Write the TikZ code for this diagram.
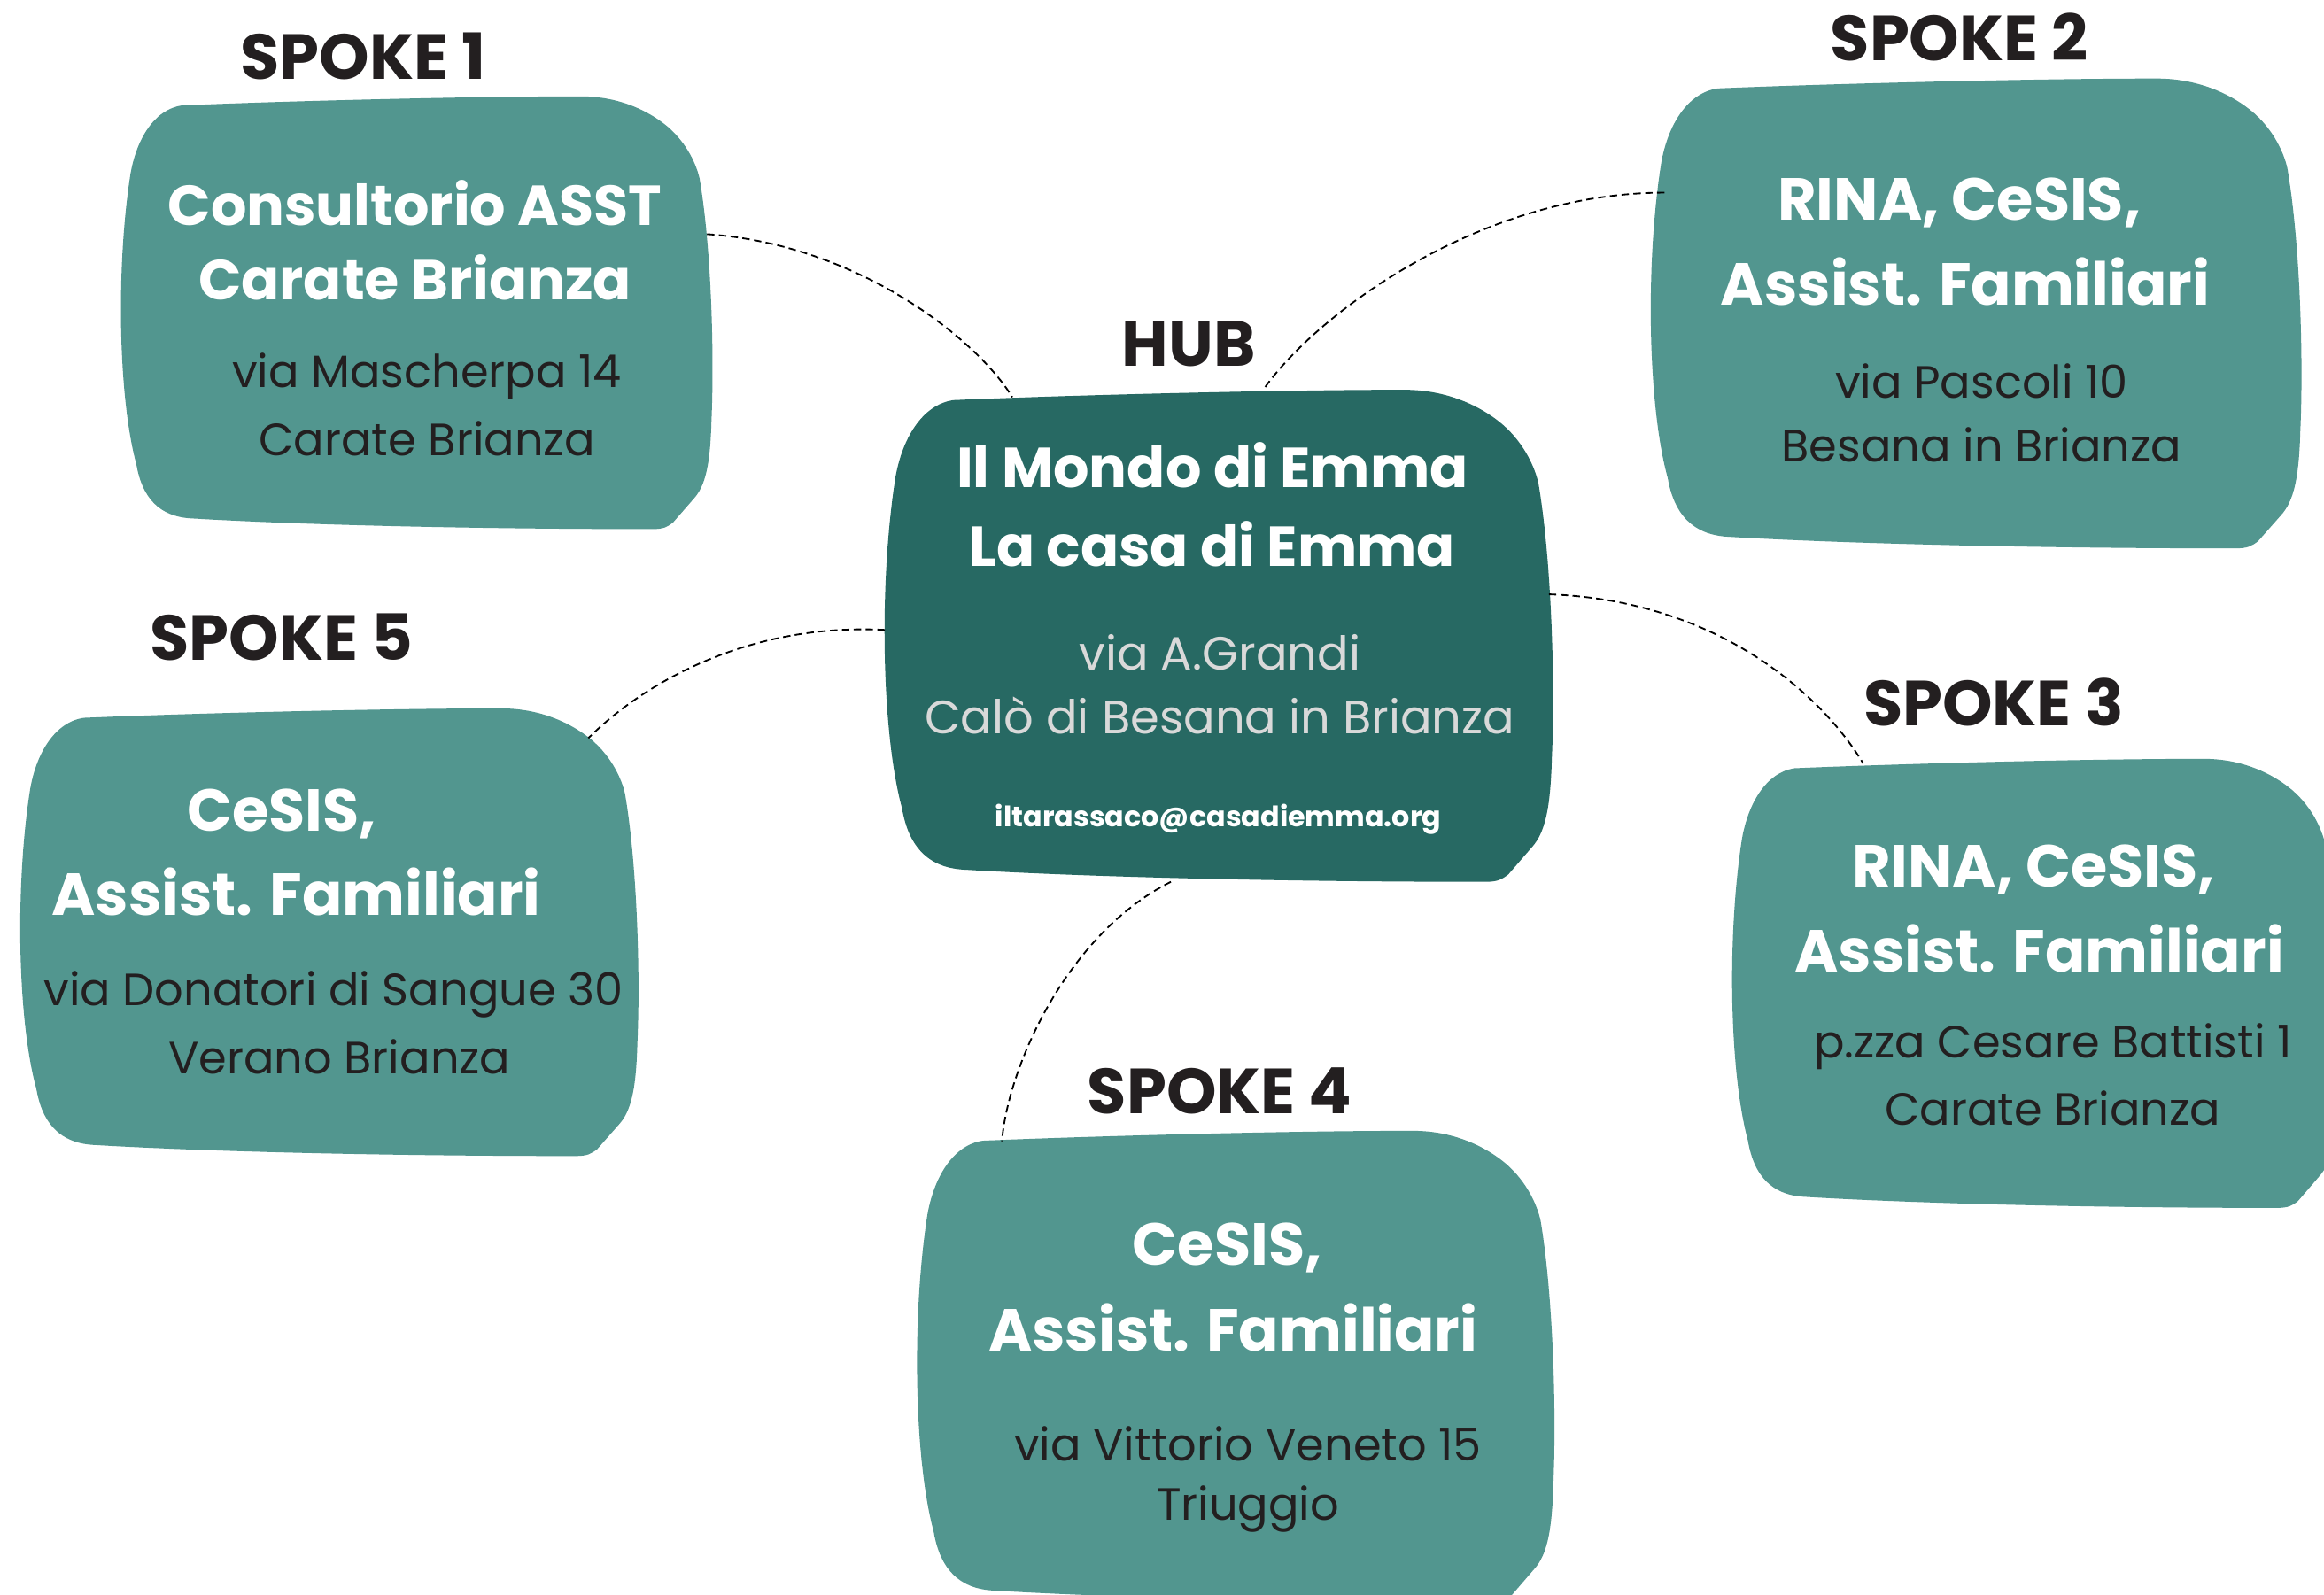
\documentclass[tikz,border=0pt]{standalone}
\usepackage{fontspec}
\setmainfont{Poppins}
\definecolor{spokec}{RGB}{82,150,143}
\definecolor{hubc}{RGB}{39,105,99}
\definecolor{ink}{RGB}{35,31,32}
\definecolor{lightg}{RGB}{217,217,217}
\newcommand{\drawblob}[5]{%
  \begin{scope}[shift={(#1,#2)},xscale=#3,yscale=#4]
    \fill[#5] (0.107,0.021) .. controls (0.3,0.01) and (0.6,0.0) .. (0.78,0.0)
      .. controls (0.85,0.0) and (0.9,0.04) .. (0.926,0.07)
      .. controls (0.96,0.11) and (0.975,0.16) .. (0.98,0.19)
      .. controls (1.0,0.35) and (1.005,0.6) .. (1.0,0.75)
      .. controls (0.998,0.85) and (0.99,0.9) .. (0.97,0.93)
      -- (0.935,0.985)
      .. controls (0.925,0.995) and (0.92,1.0) .. (0.9,1.0)
      .. controls (0.6,1.0) and (0.3,0.99) .. (0.12,0.975)
      .. controls (0.07,0.97) and (0.04,0.93) .. (0.03,0.85)
      .. controls (0.0,0.7) and (-0.005,0.4) .. (0.02,0.18)
      .. controls (0.03,0.1) and (0.06,0.03) .. (0.107,0.021) -- cycle;
  \end{scope}}
\begin{document}
\begin{tikzpicture}[x=1pt,y=-1pt,
  title/.style={text=white,font=\fontsize{40}{44}\selectfont\bfseries,inner sep=0},
  titles/.style={text=white,font=\fontsize{38}{42}\selectfont\bfseries,inner sep=0},
  addr/.style={text=ink,font=\fontsize{30.5}{34}\selectfont,inner sep=0},
  haddr/.style={text=lightg,font=\fontsize{31.5}{34}\selectfont,inner sep=0},
  mail/.style={text=white,font=\fontsize{19}{21}\selectfont\bfseries,inner sep=0},
  lbl/.style={text=ink,font=\fontsize{43}{46}\selectfont\bfseries,inner sep=0},
  link/.style={draw=black,line width=1.1pt,dash pattern=on 5pt off 3pt}]
\useasboundingbox[fill=white] (0,0) rectangle (1568,1076);
% blobs
\drawblob{80}{65}{400}{292}{spokec}
\drawblob{1112}{53}{440}{317}{spokec}
\drawblob{595}{263}{452}{332}{hubc}
\drawblob{12}{478}{418}{302}{spokec}
\drawblob{1167}{512}{410}{303}{spokec}
\drawblob{617}{763}{431}{318}{spokec}
% connector ends
\coordinate (c1a) at (477,158); \coordinate (c1b) at (683,268);
\coordinate (c2a) at (1123,130); \coordinate (c2b) at (853,262);
\coordinate (c3a) at (1045,401); \coordinate (c3b) at (1257,515);
\coordinate (c5a) at (597,425); \coordinate (c5b) at (397,498);
\coordinate (c4a) at (790,595); \coordinate (c4b) at (676,770);
\draw[link] (c1a) .. controls (580,165) and (660,230) .. (c1b);
\draw[link] (c2a) .. controls (1000,130) and (890,210) .. (c2b);
\draw[link] (c3a) .. controls (1160,405) and (1230,470) .. (c3b);
\draw[link] (c5a) .. controls (500,420) and (430,465) .. (c5b);
\draw[link] (c4a) .. controls (720,630) and (680,720) .. (c4b);
% labels
\node[lbl] (l1) at (245,38) {SPOKE 1};
\node[lbl] (l2) at (1322,25) {SPOKE 2};
\node[lbl] (lh) at (802,232) {HUB};
\node[lbl] (l5) at (190,430) {SPOKE 5};
\node[lbl] (l3) at (1345,474) {SPOKE 3};
\node[lbl] (l4) at (823,736) {SPOKE 4};
% spoke 1
\node[titles] (s1a) at (280,137) {Consultorio ASST};
\node[titles] (s1b) at (280,187) {Carate Brianza};
\node[addr] (s1c) at (288,254) {via Mascherpa 14};
\node[addr] (s1d) at (288,296) {Carate Brianza};
% spoke 2
\node[title] (s2a) at (1322,137) {RINA, CeSIS,};
\node[title] (s2b) at (1326,190) {Assist. Familiari};
\node[addr] (s2c) at (1337,257) {via Pascoli 10};
\node[addr] (s2d) at (1337,300) {Besana in Brianza};
% hub
\node[titles] (ha) at (818,314) {Il Mondo di Emma};
\node[titles] (hb) at (818,367) {La casa di Emma};
\node[haddr] (hc) at (823,440) {via A.Grandi};
\node[haddr] (hd) at (823,483) {Calò di Besana in Brianza};
\node[mail] (he) at (822,553) {iltarassaco@casadiemma.org};
% spoke 5
\node[title] (s5a) at (190,549) {CeSIS,};
\node[title] (s5b) at (200,602) {Assist. Familiari};
\node[addr] (s5c) at (225,671) {via Donatori di Sangue 30};
\node[addr] (s5d) at (229,713) {Verano Brianza};
% spoke 3
\node[title] (s3a) at (1372,587) {RINA, CeSIS,};
\node[title] (s3b) at (1376,640) {Assist. Familiari};
\node[addr] (s3c) at (1385,706) {p.zza Cesare Battisti 1};
\node[addr] (s3d) at (1385,748) {Carate Brianza};
% spoke 4
\node[title] (s4a) at (828,842) {CeSIS,};
\node[title] (s4b) at (832,896) {Assist. Familiari};
\node[addr] (s4c) at (842,974) {via Vittorio Veneto 15};
\node[addr] (s4d) at (842,1018) {Triuggio};
\end{tikzpicture}
\end{document}
